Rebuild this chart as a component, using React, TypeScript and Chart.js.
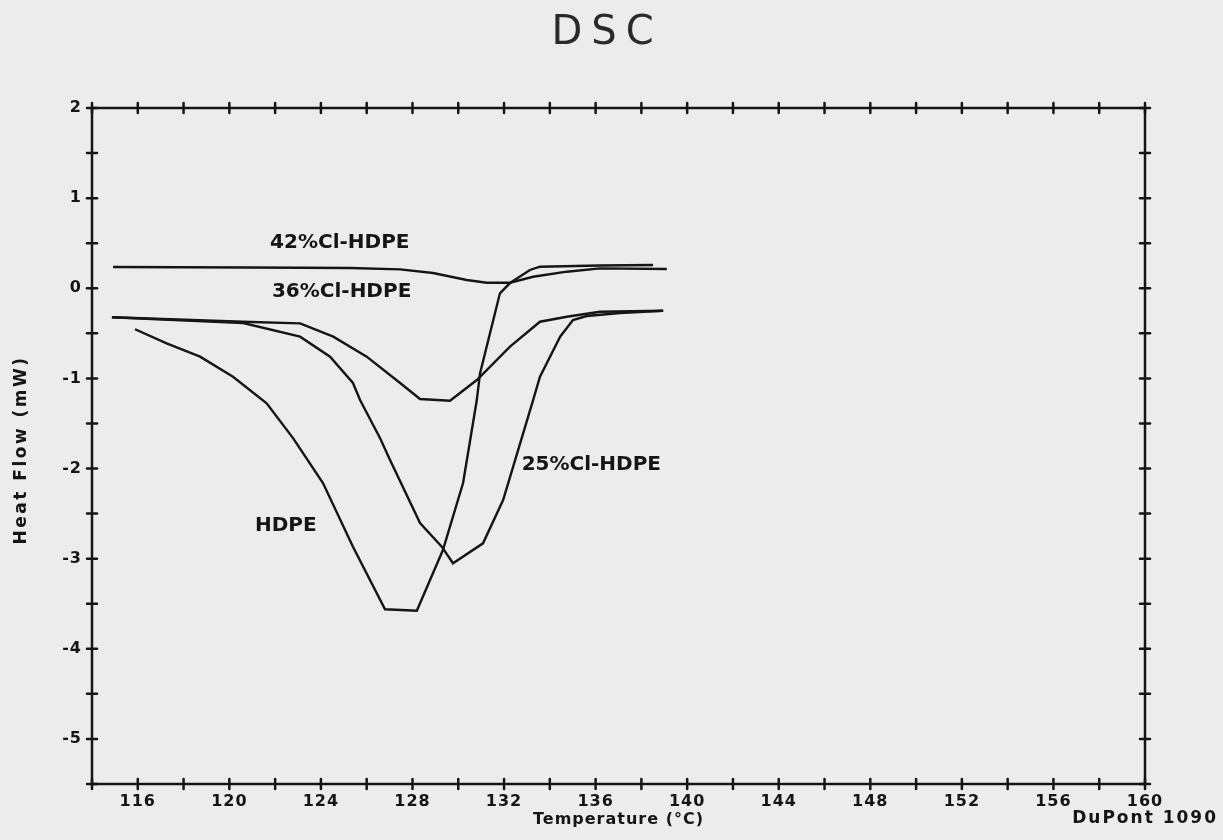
import React, { useEffect, useRef } from 'react';
import { Chart, registerables } from 'chart.js';

Chart.register(...registerables);

// ---- Data (temperature in °C, heat flow in mW) ----
const hdpeT = [115.88, 117.26, 118.72, 120.16, 121.63, 122.79, 124.09, 125.4, 126.8, 128.19, 129.33, 130.21, 130.81, 130.95, 131.82, 132.26, 133.13, 133.57, 136.19, 138.51];
const hdpeHF = [-0.455, -0.611, -0.759, -0.981, -1.276, -1.665, -2.161, -2.867, -3.562, -3.577, -2.904, -2.161, -1.24, -0.944, -0.056, 0.058, 0.203, 0.239, 0.253, 0.258];

const cl25T = [114.87, 120.6, 123.09, 124.4, 125.4, 125.71, 126.58, 127.02, 128.33, 129.28, 129.77, 131.08, 131.96, 133.27, 133.57, 134.45, 135.01, 135.61, 137.07, 138.95];
const cl25HF = [-0.322, -0.385, -0.537, -0.759, -1.051, -1.24, -1.661, -1.905, -2.604, -2.867, -3.051, -2.83, -2.349, -1.24, -0.981, -0.537, -0.352, -0.308, -0.275, -0.249];

const cl36T = [114.87, 120.6, 123.09, 124.54, 126.0, 127.46, 128.33, 129.64, 130.81, 132.26, 133.57, 134.74, 136.19, 138.95];
const cl36HF = [-0.322, -0.371, -0.389, -0.537, -0.759, -1.051, -1.229, -1.247, -1.018, -0.648, -0.371, -0.316, -0.26, -0.249];

const cl42T = [114.92, 120.9, 125.27, 127.46, 128.9, 130.37, 131.24, 132.26, 133.27, 134.74, 136.19, 139.11];
const cl42HF = [0.236, 0.23, 0.225, 0.21, 0.169, 0.092, 0.062, 0.062, 0.128, 0.184, 0.221, 0.214];

const xTickLabels = [116, 120, 124, 128, 132, 136, 140, 144, 148, 152, 156, 160];
const yTickLabels = [2, 1, 0, -1, -2, -3, -4, -5];

const curveLabels = ['42%Cl-HDPE', '36%Cl-HDPE', '25%Cl-HDPE', 'HDPE'];
const curveLabelT = [121.78, 121.86, 132.77, 121.12];
const curveLabelHF = [0.5, -0.04, -1.96, -2.63];

const chartTitle = 'DSC';
const xTitle = 'Temperature (°C)';
const yTitle = 'Heat Flow (mW)';
const instrument = 'DuPont 1090';

const INK = '#151515';
const PAPER = '#ececec';
const FONT = '"DejaVu Sans", sans-serif';

const toPoints = (xs: number[], ys: number[]) => xs.map((v, i) => ({ x: v, y: ys[i] }));

const paperPlugin = {
  id: 'paperFrame',
  beforeDraw(chart: any) {
    const { ctx, width, height } = chart;
    ctx.save();
    ctx.fillStyle = PAPER;
    ctx.fillRect(0, 0, width, height);
    ctx.restore();
    // plotter lettering is widely spaced
    (ctx as any).letterSpacing = '1px';
  },
  afterDatasetsDraw(chart: any) {
    const { ctx, chartArea: a, scales } = chart;
    const xs = scales.x;
    const ys = scales.y;
    ctx.save();
    ctx.strokeStyle = INK;
    ctx.lineWidth = 2.5;
    ctx.lineCap = 'round';
    ctx.strokeRect(a.left, a.top, a.right - a.left, a.bottom - a.top);
    const seg = (x1: number, y1: number, x2: number, y2: number) => {
      ctx.beginPath();
      ctx.moveTo(x1, y1);
      ctx.lineTo(x2, y2);
      ctx.stroke();
    };
    const t = 5;
    xs.ticks.forEach((tk: any) => {
      const px = xs.getPixelForValue(tk.value);
      seg(px, a.top - t, px, a.top + t);
      seg(px, a.bottom - t, px, a.bottom + t);
    });
    ys.ticks.forEach((tk: any) => {
      const py = ys.getPixelForValue(tk.value);
      seg(a.left - t, py, a.left + t, py);
      seg(a.right - t, py, a.right + t, py);
    });

    ctx.fillStyle = INK;
    (ctx as any).letterSpacing = '0px';
    ctx.font = `bold 20px ${FONT}`;
    ctx.textAlign = 'left';
    ctx.textBaseline = 'middle';
    curveLabels.forEach((s, i) => {
      ctx.fillText(s, xs.getPixelForValue(curveLabelT[i]), ys.getPixelForValue(curveLabelHF[i]));
    });

    // chart title
    ctx.fillStyle = '#2a2a2a';
    ctx.font = `normal 40px ${FONT}`;
    ctx.textAlign = 'center';
    (ctx as any).letterSpacing = '9px';
    ctx.fillText(chartTitle, 607, 34);

    // y-axis title
    ctx.save();
    ctx.fillStyle = INK;
    ctx.font = `bold 17px ${FONT}`;
    (ctx as any).letterSpacing = '2.5px';
    ctx.translate(22, 450);
    ctx.rotate(-Math.PI / 2);
    ctx.textAlign = 'center';
    ctx.fillText(yTitle, 0, 0);
    ctx.restore();

    ctx.fillStyle = INK;
    ctx.font = `bold 17px ${FONT}`;
    ctx.textAlign = 'right';
    (ctx as any).letterSpacing = '2px';
    ctx.fillText(instrument, 1218, 819);
    ctx.restore();
  },
  afterDraw(chart: any) {
    (chart.ctx as any).letterSpacing = '0px';
  },
};

export default function App() {
  const ref = useRef<HTMLCanvasElement | null>(null);

  useEffect(() => {
    if (!ref.current) return;
    const lineStyle = {
      borderColor: INK,
      borderWidth: 2.4,
      pointRadius: 0,
      tension: 0,
      fill: false,
    };
    const chart = new Chart(ref.current, {
      type: 'line',
      data: {
        datasets: [
          { label: 'HDPE', data: toPoints(hdpeT, hdpeHF), ...lineStyle },
          { label: '25%Cl-HDPE', data: toPoints(cl25T, cl25HF), ...lineStyle },
          { label: '36%Cl-HDPE', data: toPoints(cl36T, cl36HF), ...lineStyle },
          { label: '42%Cl-HDPE', data: toPoints(cl42T, cl42HF), ...lineStyle },
        ],
      },
      options: {
        animation: false,
        responsive: false,
        devicePixelRatio: 1,
        layout: { padding: { left: 0, right: 78, top: 108, bottom: 0 } },
        plugins: {
          legend: { display: false },
          tooltip: { enabled: false },
          title: { display: false, text: chartTitle },
        },
        scales: {
          x: {
            type: 'linear',
            min: 114,
            max: 160,
            grid: { display: false, drawTicks: false },
            border: { display: false },
            ticks: {
              stepSize: 2,
              autoSkip: false,
              maxRotation: 0,
              padding: 8,
              color: INK,
              font: { family: FONT, size: 16, weight: 'bold' },
              callback: (v: any) => (xTickLabels.includes(Number(v)) ? String(v) : ''),
            },
            title: {
              display: true,
              text: xTitle,
              color: INK,
              font: { family: FONT, size: 16, weight: 'bold', lineHeight: 1.2 },
              padding: { top: 0, bottom: 11 },
            },
            afterFit: (s: any) => {
              s.height = 56;
            },
          },
          y: {
            type: 'linear',
            min: -5.5,
            max: 2,
            grid: { display: false, drawTicks: false },
            border: { display: false },
            ticks: {
              stepSize: 0.5,
              autoSkip: false,
              padding: 10,
              color: INK,
              font: { family: FONT, size: 16, weight: 'bold' },
              callback: (v: any) => (yTickLabels.includes(Number(v)) ? String(v) : ''),
            },
            title: { display: false, text: yTitle },
            afterFit: (s: any) => {
              s.width = 92;
            },
          },
        },
      },
      plugins: [paperPlugin],
    });
    return () => chart.destroy();
  }, []);

  return (
    <div style={{ position: 'fixed', left: 0, top: 0, width: 1223, height: 840, background: PAPER }}>
      <canvas ref={ref} width={1223} height={840} style={{ display: 'block' }} />
    </div>
  );
}
